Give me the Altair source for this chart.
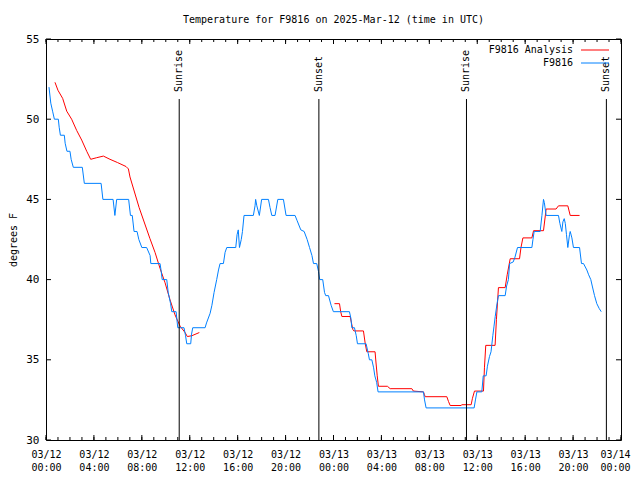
import altair as alt
import pandas as pd

# ---- data (hours since 2025-03-12 00:00 UTC, temperature in deg F) ----
obs_hours = [0.25, 0.4, 0.55, 0.7, 1.03, 1.1, 1.2, 1.53, 1.6, 1.75, 2.0, 2.1, 2.28, 3.03, 3.2, 4.6,
             4.75, 5.6, 5.75, 5.9, 6.9, 7.05, 7.2, 7.35, 7.6, 7.75, 8.0, 8.4, 8.69, 8.75, 9.52, 9.6,
             9.7, 10.08, 10.2, 10.4, 10.5, 10.86, 11.0, 11.52, 11.65, 11.75, 12.08, 12.15, 12.25,
             13.28, 13.4, 13.7, 13.85, 14.03, 14.25, 14.4, 14.53, 14.81, 14.95, 15.09, 15.84, 15.95,
             16.05, 16.15, 16.3, 16.4, 16.53, 17.31, 17.45, 17.5, 17.6, 17.81, 18.0, 18.57, 18.7,
             18.85, 19.12, 19.35, 19.82, 20.04, 20.79, 20.95, 21.27, 21.55, 21.8, 22.0, 22.2, 22.33,
             22.6, 22.75, 22.85, 23.1, 23.25, 23.35, 23.58, 23.8, 23.99, 25.33, 25.45, 25.53, 25.75,
             25.9, 26.0, 26.72, 26.9, 27.0, 27.2, 27.35, 27.45, 27.6, 27.72, 31.51, 31.6, 31.73,
             35.74, 35.85, 35.97, 36.38, 36.5, 36.74, 36.85, 37.02, 37.15, 37.3, 37.4, 37.5, 37.65,
             37.77, 38.33, 38.45, 38.6, 38.7, 39.0, 39.15, 39.36, 40.56, 40.65, 40.75, 41.25, 41.4,
             41.53, 41.6, 41.75, 42.78, 42.9, 43.06, 43.15, 43.26, 43.35, 43.45, 43.56, 43.7, 43.76,
             43.9, 44.03, 44.54, 44.7, 44.87, 45.15, 45.3, 45.48, 45.6, 45.79, 45.98, 46.18, 46.35]
obs_temps = [52, 51, 50.5, 50, 50, 49.5, 49, 49, 48.5, 48, 48, 47.5, 47, 47, 46, 46,
             45, 45, 44, 45, 45, 44, 44, 43, 43, 42.5, 42, 42, 41.5, 41, 41, 40.6,
             40, 40, 39.2, 38.5, 38, 38, 37, 37, 36.5, 36, 36, 36.6, 37,
             37, 37.3, 37.9, 38.4, 39.2, 40, 40.6, 41, 41, 41.7, 42, 42, 42.8,
             43.1, 42, 42.5, 43, 44, 44, 44.6, 45, 44.6, 44, 45, 45, 44.5,
             44, 44, 45, 45, 44, 44, 43.7, 43.1, 43, 42.5, 42, 41.5, 41,
             41, 40.5, 40, 40, 39.2, 39, 39, 38.4, 38, 38, 37.6, 37, 37,
             36.5, 36, 36, 35.4, 35, 35, 34.5, 34, 33.6, 33, 33, 32.5, 32,
             32, 32.5, 33, 33, 34, 34, 34.6, 35.2, 35.5, 36.5, 37.1, 37.7, 38.5,
             39, 39, 39.6, 40, 41, 41.1, 41.4, 42, 42, 42.5, 43, 43, 44,
             45, 44.8, 44, 44, 43.5, 43, 43.6, 43.8, 43.5, 42.8, 42, 42.8, 43,
             42.6, 42, 42, 41, 41, 40.6, 40.3, 40, 39.6, 39, 38.5, 38.2, 38]

ana1_hours = [0.75, 1.0, 1.39, 1.73, 2.14, 2.56, 2.98, 3.4, 3.73, 4.23, 4.79, 5.34, 5.96, 6.68, 6.88,
              7.01, 7.77, 8.68, 9.1, 9.52, 9.94, 10.35, 10.77, 11.19, 11.61, 11.8, 12.17, 12.8]
ana1_temps = [52.3, 51.8, 51.3, 50.5, 50.0, 49.3, 48.7, 48.0, 47.5, 47.6, 47.7, 47.5, 47.3, 47.05, 46.9,
              46.4, 44.5, 42.55, 41.7, 40.7, 39.8, 38.75, 37.8, 37.1, 36.7, 36.45, 36.5, 36.7]
ana2_hours = [24.08, 24.5, 24.6, 24.7, 25.39, 25.5, 25.61, 25.7, 26.5, 26.65, 26.78, 27.47, 27.55, 27.65,
              27.75, 28.5, 28.73, 30.54, 30.67, 31.51, 31.58, 31.65, 33.46, 33.6, 33.74, 34.66, 34.7,
              35.49, 35.6, 35.77, 36.52, 36.6, 36.71, 37.49, 37.6, 37.77, 38.33, 38.5, 38.75, 39.53,
              39.65, 39.81, 40.56, 40.7, 41.53, 41.75, 42.58, 42.78, 43.56, 43.76, 44.54]
ana2_temps = [38.5, 38.5, 38.0, 37.7, 37.7, 37.3, 36.9, 36.8, 36.8, 36.0, 35.5, 35.5, 34.8, 34.0,
              33.35, 33.35, 33.2, 33.2, 33.05, 33.0, 32.85, 32.7, 32.7, 32.4, 32.15, 32.15, 32.2,
              32.2, 32.6, 33.05, 33.05, 34.5, 35.9, 35.9, 37.5, 39.5, 39.5, 40.3, 41.3, 41.3,
              42.0, 42.6, 42.6, 43.05, 43.05, 44.4, 44.4, 44.6, 44.6, 44.0, 44.0]

sun_hours = [11.12, 22.78, 35.1, 46.78]
sun_labels = ["Sunrise", "Sunset", "Sunrise", "Sunset"]

x_tick_hours = [0, 4, 8, 12, 16, 20, 24, 28, 32, 36, 40, 44, 48]
y_tick_values = [30, 35, 40, 45, 50, 55]
minor_tick_hours = list(range(0, 49))

title_text = "Temperature for F9816 on 2025-Mar-12 (time in UTC)"
series_names = ["F9816 Analysis", "F9816"]
series_colors = ["#ff0000", "#0080ff"]

# ---- layout ----
W, H = 575, 401
FONT = "DejaVu Sans Mono"
FS = 10

obs_df = pd.DataFrame({"h": obs_hours, "t": obs_temps})
ana_df = pd.DataFrame({
    "h": ana1_hours + ana2_hours,
    "t": ana1_temps + ana2_temps,
    "seg": ["a"] * len(ana1_hours) + ["b"] * len(ana2_hours),
})
sun_df = pd.DataFrame({"h": sun_hours, "label": sun_labels})
minor_df = pd.DataFrame({"h": minor_tick_hours})
major_df = pd.DataFrame({"h": x_tick_hours})
ytick_df = pd.DataFrame({"v": y_tick_values})
leg_df = pd.DataFrame({"name": series_names, "color": series_colors, "row": [0, 1]})

xs = alt.Scale(domain=[0, 48], nice=False, zero=False)
ys = alt.Scale(domain=[30, 55], nice=False, zero=False)

label_expr = ("['03/' + format(12 + floor(datum.value / 24), '02d'), "
              "format(datum.value % 24, '02d') + ':00']")

x_axis = alt.Axis(values=x_tick_hours, labelExpr=label_expr, ticks=False, domain=False,
                  grid=False, title=None, labelFont=FONT, labelFontSize=FS, labelColor="black",
                  labelPadding=9, labelFlush=False, labelOverlap=False, labelLineHeight=13,
                  labelBaseline="top",
                  labelOffset={"condition": {"test": "datum.value >= 48", "value": -6}, "value": 0})
y_axis = alt.Axis(values=y_tick_values, ticks=False, domain=False, grid=False,
                  title="degrees F", titleFont=FONT, titleFontSize=FS, titleFontWeight="normal",
                  titleColor="black", titleX=-33, titleY=H / 2, titleAngle=270,
                  titleAlign="center", titleBaseline="middle",
                  labelFont=FONT, labelFontSize=FS + 1,
                  labelColor="black", labelPadding=7, labelFlush=False)

red = alt.Chart(ana_df).mark_line(color=series_colors[0], strokeWidth=1).encode(
    x=alt.X("h:Q", scale=xs, axis=x_axis),
    y=alt.Y("t:Q", scale=ys, axis=y_axis),
    detail="seg:N",
)
blue = alt.Chart(obs_df).mark_line(color=series_colors[1], strokeWidth=1).encode(
    x=alt.X("h:Q", scale=xs, axis=None),
    y=alt.Y("t:Q", scale=ys, axis=None),
)

sun_rule = alt.Chart(sun_df).mark_rule(color="black", strokeWidth=1).encode(
    x=alt.X("h:Q", scale=xs, axis=None), y=alt.value(60), y2=alt.value(H))
sun_text = alt.Chart(sun_df).mark_text(angle=270, align="left", baseline="middle",
                                      font=FONT, fontSize=FS, color="black").encode(
    x=alt.X("h:Q", scale=xs, axis=None), y=alt.value(53), text="label:N")

tick_bot_minor = alt.Chart(minor_df).mark_rule(color="black").encode(
    x=alt.X("h:Q", scale=xs, axis=None), y=alt.value(H - 3), y2=alt.value(H))
tick_top_minor = alt.Chart(minor_df).mark_rule(color="black").encode(
    x=alt.X("h:Q", scale=xs, axis=None), y=alt.value(0), y2=alt.value(3))
tick_bot_major = alt.Chart(major_df).mark_rule(color="black").encode(
    x=alt.X("h:Q", scale=xs, axis=None), y=alt.value(H - 5), y2=alt.value(H))
tick_top_major = alt.Chart(major_df).mark_rule(color="black").encode(
    x=alt.X("h:Q", scale=xs, axis=None), y=alt.value(0), y2=alt.value(5))
tick_left = alt.Chart(ytick_df).mark_rule(color="black").encode(
    y=alt.Y("v:Q", scale=ys, axis=None), x=alt.value(0), x2=alt.value(5))
tick_right = alt.Chart(ytick_df).mark_rule(color="black").encode(
    y=alt.Y("v:Q", scale=ys, axis=None), x=alt.value(W - 5), x2=alt.value(W))

row_y = alt.Y("row:Q", scale=alt.Scale(domain=[0, 1], range=[11, 24]), axis=None)
leg_text = alt.Chart(leg_df).mark_text(align="right", baseline="middle", font=FONT,
                                       fontSize=FS, color="black").encode(
    x=alt.value(527), y=row_y, text="name:N")
leg_line = alt.Chart(leg_df).mark_rule(strokeWidth=1).encode(
    x=alt.value(535), x2=alt.value(563), y=row_y,
    color=alt.Color("color:N", scale=None, legend=None))

chart = alt.layer(
    red, blue, sun_rule, sun_text,
    tick_bot_minor, tick_top_minor, tick_bot_major, tick_top_major, tick_left, tick_right,
    leg_text, leg_line,
).resolve_axis(x="independent", y="independent").resolve_scale(y="independent").properties(
    width=W, height=H,
    title=alt.TitleParams(title_text, font=FONT, fontSize=FS, fontWeight="normal",
                          color="black", anchor="middle", offset=8),
    autosize=alt.AutoSizeParams(type="none"),
    padding={"left": 38, "top": 31, "right": 11, "bottom": 32},
).configure_view(stroke="black", strokeWidth=1)

chart.save("out.html", embed_options={"renderer": "svg", "actions": False})
